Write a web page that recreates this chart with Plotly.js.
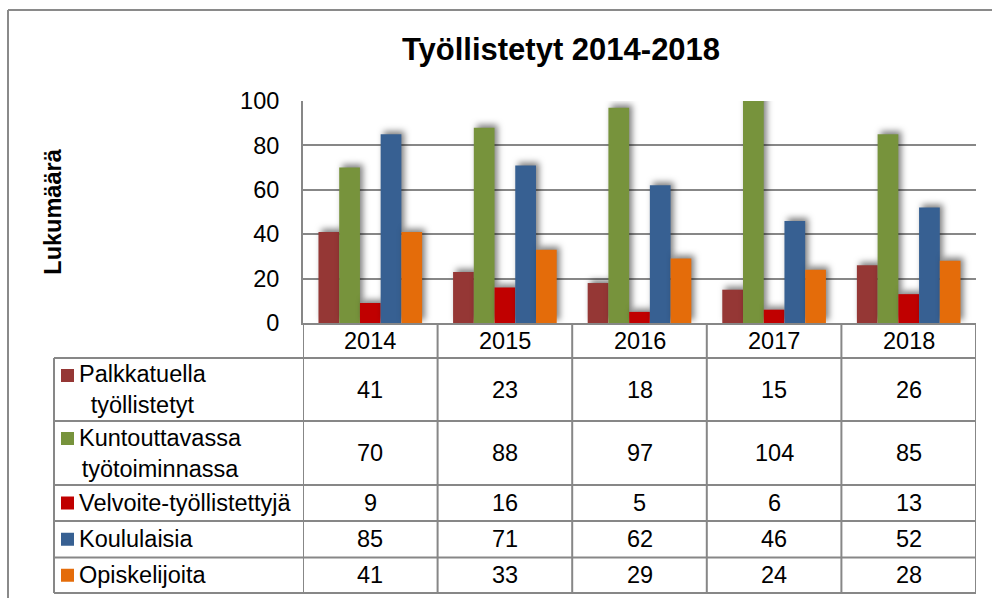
<!DOCTYPE html>
<html>
<head>
<meta charset="utf-8">
<script src="https://cdn.plot.ly/plotly-3.0.1.min.js"></script>
<style>
html,body{margin:0;padding:0;background:#fff;}
#chart{width:992px;height:598px;}
.barlayer .point path{filter:drop-shadow(3px -3px 3px rgba(0,0,0,0.5));}
</style>
</head>
<body>
<div id="chart"></div>
<script>
// ---- data ----
const years = ["2014", "2015", "2016", "2017", "2018"];
const seriesNames = ["Palkkatuella<br>työllistetyt", "Kuntouttavassa<br>työtoiminnassa", "Velvoite-työllistettyjä", "Koululaisia", "Opiskelijoita"];
const palkkatuella = [41, 23, 18, 15, 26];
const kuntouttavassa = [70, 88, 97, 104, 85];
const velvoite = [9, 16, 5, 6, 13];
const koululaisia = [85, 71, 62, 46, 52];
const opiskelijoita = [41, 33, 29, 24, 28];
const yTicks = [0, 20, 40, 60, 80, 100];

const seriesValues = [palkkatuella, kuntouttavassa, velvoite, koululaisia, opiskelijoita];
const colors = ["#953735", "#77933C", "#C00000", "#376092", "#E46C0A"];

// ---- layout geometry (pixels) ----
const W = 992, H = 598;
const L = 303, R = 976, T = 101, B = 323;
const PW = R - L, PH = B - T;
const px2x = p => (p - L) / PW;
const py2y = p => (B - p) / PH;

const font = "Arial, 'Liberation Sans', sans-serif";
const gridCol = "#878787";
const fs = 23.5;

const traces = seriesValues.map((vals, i) => ({
  type: "bar",
  x: years,
  y: vals,
  name: seriesNames[i].replace("<br>", " "),
  marker: {color: colors[i], line: {width: 0}},
  hoverinfo: "x+y+name"
}));

// table rows: [top, bottom] in pixels
const headerMid = 341;
const rowEdges = [358, 421, 485, 521, 557.5, 593];
const tableLeft = 54;

const shapes = [];
const annotations = [];

// outer frame
shapes.push({type: "line", xref: "paper", yref: "paper", x0: px2x(8), x1: px2x(1000), y0: py2y(10), y1: py2y(10), line: {color: "#8a8a8a", width: 2}});
shapes.push({type: "line", xref: "paper", yref: "paper", x0: px2x(8), x1: px2x(8), y0: py2y(10), y1: py2y(610), line: {color: "#8a8a8a", width: 2}});

// table horizontal lines
rowEdges.forEach(py => {
  shapes.push({type: "line", xref: "paper", yref: "paper", x0: px2x(tableLeft), x1: 1, y0: py2y(py), y1: py2y(py), line: {color: gridCol, width: 2}});
});
// left border of label column
shapes.push({type: "line", xref: "paper", yref: "paper", x0: px2x(tableLeft), x1: px2x(tableLeft), y0: py2y(rowEdges[0]), y1: py2y(rowEdges[rowEdges.length - 1]), line: {color: gridCol, width: 2}});
// vertical category lines
for (let k = 0; k <= years.length; k++) {
  shapes.push({type: "line", xref: "x", yref: "paper", x0: k - 0.5, x1: k - 0.5, y0: 0, y1: py2y(rowEdges[rowEdges.length - 1]), line: {color: gridCol, width: 2}});
}

// header row: years
years.forEach((yr, c) => {
  annotations.push({xref: "x", yref: "paper", x: c, y: py2y(headerMid), xanchor: "center", yanchor: "middle", text: yr, showarrow: false, font: {family: font, size: fs, color: "#000"}});
});

// table rows: legend keys, labels, values
for (let r = 0; r < seriesNames.length; r++) {
  const top = rowEdges[r], bot = rowEdges[r + 1];
  const mid = (top + bot) / 2;
  const twoLine = seriesNames[r].indexOf("<br>") >= 0;
  const keyTop = twoLine ? top + 11 : mid - 6.5;
  shapes.push({type: "rect", xref: "paper", yref: "paper", x0: px2x(61), x1: px2x(74), y0: py2y(keyTop), y1: py2y(keyTop + 13), fillcolor: colors[r], line: {width: 0}});
  annotations.push({xref: "paper", yref: "paper", x: px2x(77), y: py2y(mid), xanchor: "left", yanchor: "middle", align: "center", text: seriesNames[r], showarrow: false, font: {family: font, size: fs, color: "#000"}});
  for (let c = 0; c < years.length; c++) {
    annotations.push({xref: "x", yref: "paper", x: c, y: py2y(mid), xanchor: "center", yanchor: "middle", text: String(seriesValues[r][c]), showarrow: false, font: {family: font, size: fs, color: "#000"}});
  }
}

const layout = {
  width: W, height: H,
  margin: {l: L, r: W - R, t: T, b: H - B, pad: 0},
  paper_bgcolor: "#fff", plot_bgcolor: "#fff",
  showlegend: false,
  barmode: "group",
  bargap: 0.23,
  bargroupgap: 0,
  title: {text: "<b>Työllistetyt 2014-2018</b>", xref: "container", yref: "container", x: 561 / W, y: 1 - 49 / H, xanchor: "center", yanchor: "middle", font: {family: font, size: 31, color: "#000"}},
  font: {family: font, color: "#000"},
  xaxis: {
    type: "category", range: [-0.5, years.length - 0.5], fixedrange: true,
    showgrid: false, zeroline: false, showline: true, linecolor: gridCol, linewidth: 2,
    ticks: "", showticklabels: false
  },
  yaxis: {
    range: [0, 100], tickvals: yTicks, ticktext: yTicks.map(String), fixedrange: true,
    showgrid: true, gridcolor: gridCol, gridwidth: 2, zeroline: false,
    showline: true, linecolor: gridCol, linewidth: 2,
    ticks: "", tickfont: {family: font, size: fs, color: "#000"}, ticklabelstandoff: 17,
    title: {text: "<b>Lukumäärä</b>", standoff: 172, font: {family: font, size: fs, color: "#000"}}
  },
  shapes: shapes,
  annotations: annotations
};

Plotly.newPlot("chart", traces, layout, {displayModeBar: false, staticPlot: true});
</script>
</body>
</html>
